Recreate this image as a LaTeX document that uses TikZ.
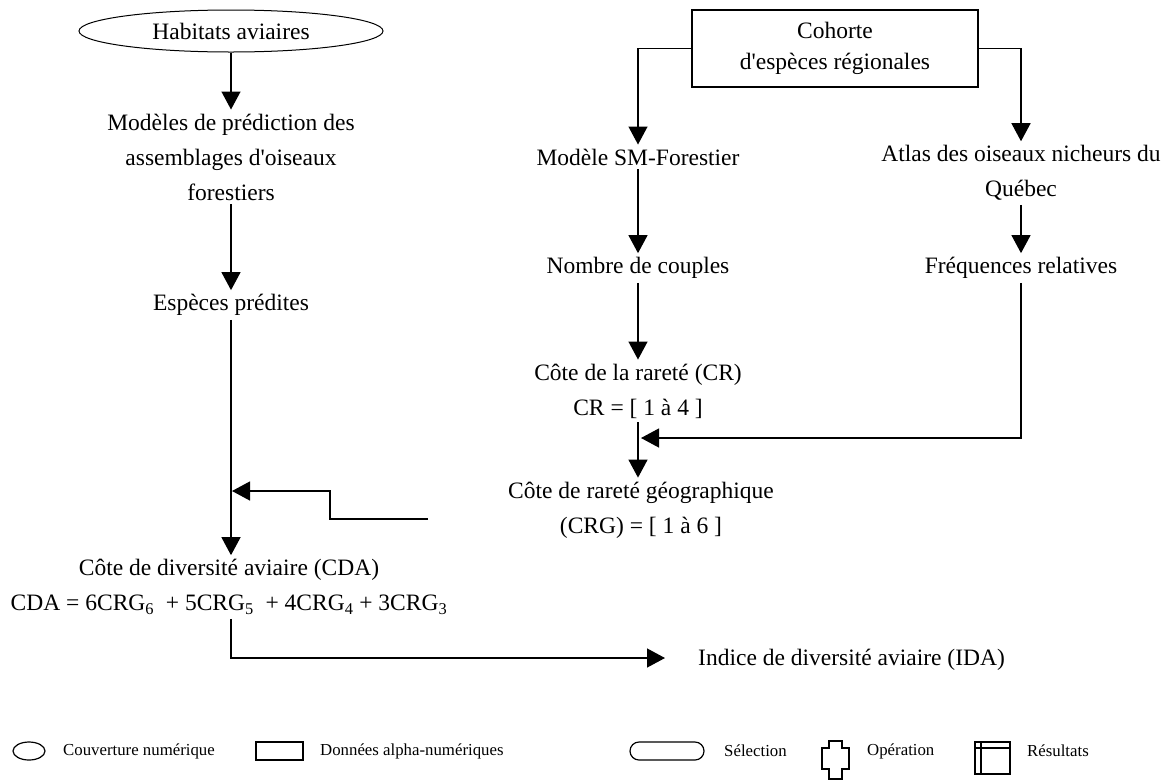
\documentclass[tikz,border=0pt]{standalone}
\usepackage{fontspec}
\setmainfont{Liberation Serif}
\usetikzlibrary{arrows.meta,shapes.geometric}
\newcommand{\apos}{\textquotesingle}
\begin{document}
\begin{tikzpicture}[x=1pt,y=-1pt,
  lbl/.style={align=center,font=\fontsize{23.5}{35}\selectfont,inner sep=4pt},
  flow/.style={line width=1.3pt,-{Triangle[length=18pt,width=19pt]}},
  key/.style={line width=1.2pt},
  keytext/.style={anchor=west,font=\fontsize{16.8}{18}\selectfont,inner sep=0pt}]
\useasboundingbox (0,0) rectangle (1169,780);

% left column
\node[lbl,draw,line width=1pt,ellipse,minimum width=304pt,minimum height=42pt,inner sep=0pt] (hab) at (231,31) {Habitats aviaires};
\node[lbl] (mod) at (231,157) {Modèles de prédiction des\\assemblages d\apos oiseaux\\forestiers};
\node[lbl] (esp) at (231,305) {Espèces prédites};
\node[lbl] (cda) at (229,587) {Côte de diversité aviaire (CDA)\\CDA = 6CRG\textsubscript{6}\ \ + 5CRG\textsubscript{5}\ \ + 4CRG\textsubscript{4} + 3CRG\textsubscript{3}};
\node[lbl,anchor=west,inner sep=0pt] (ida) at (698,660) {Indice de diversité aviaire (IDA)};

% right columns
\node[lbl,draw,line width=1.3pt,minimum width=286pt,minimum height=77pt,inner sep=0pt,
  font=\fontsize{23.5}{31}\selectfont] (coh) at (835,48.5) {Cohorte\\d\apos espèces régionales};
\node[lbl] (smf) at (638,157) {Modèle SM-Forestier};
\node[lbl] (atl) at (1021,173) {Atlas des oiseaux nicheurs du\\Québec};
\node[lbl] (nbc) at (638,268) {Nombre de couples};
\node[lbl] (frq) at (1021,268) {Fréquences relatives};
\node[lbl] (cr) at (638,391) {Côte de la rareté (CR)\\CR = [ 1 à 4 ]};
\node[lbl] (crg) at (641,510) {Côte de rareté géographique\\(CRG) = [ 1 à 6 ]};

% helper points for joins
\coordinate (feed) at (428,519);
\coordinate (merge) at (232,491);
\coordinate (crjoin) at (641,438);
\coordinate (idaend) at (665,658);

% connectors
\draw[flow] (hab.south) -- (mod.north);
\draw[flow] (mod.south) -- (esp.north);
\draw[flow] (esp.south) -- (esp.south |- cda.north);
\draw[flow] (feed) -- (330,519) -- (330,491) -- (merge);
\draw[flow] (cda.south -| 231,0) -- (231,658) -- (idaend);

\draw[flow] (coh.west) -- (638,48.5) -- (smf.north);
\draw[flow] (coh.east) -- (1021,48.5) -- (atl.north);
\draw[flow] (smf.south) -- (nbc.north);
\draw[flow] (atl.south) -- (frq.north);
\draw[flow] (nbc.south) -- (cr.north);
\draw[flow] (cr.south) -- (cr.south |- crg.north);
\draw[flow] (frq.south) -- (frq.south |- crjoin) -- (crjoin);

% legend
\draw[key] (29,751) ellipse [x radius=16, y radius=9];
\node[keytext] at (63,751) {Couverture numérique};
\draw[key] (256,742) rectangle (303,760);
\node[keytext] at (320,751) {Données alpha-numériques};
\draw[key,rounded corners=9pt] (630,742) rectangle (704,760);
\node[keytext] at (724,751) {Sélection};
\draw[key] (829,741) -- (842,741) -- (842,748) -- (849,748) -- (849,769) -- (842,769) -- (842,779)
  -- (829,779) -- (829,769) -- (822,769) -- (822,748) -- (829,748) -- cycle;
\node[keytext] at (867,751) {Opération};
\draw[key] (975,742) rectangle (1010,774);
\draw[key] (975,748) -- (1010,748);
\draw[key] (981,742) -- (981,774);
\node[keytext] at (1027,751) {Résultats};
\end{tikzpicture}
\end{document}
